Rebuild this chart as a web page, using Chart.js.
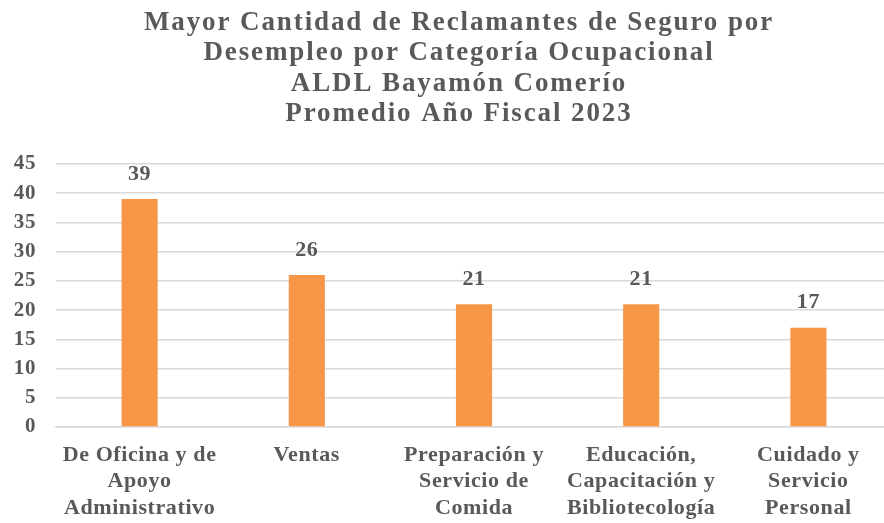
<!DOCTYPE html>
<html>
<head>
<meta charset="utf-8">
<script src="https://cdn.jsdelivr.net/npm/chart.js@4/dist/chart.umd.min.js"></script>
<style>
  html, body { margin: 0; padding: 0; background: #fff; }
  #wrap { width: 884px; height: 523px; overflow: hidden; }
  #box { width: 916px; height: 523px; }
</style>
</head>
<body>
<div id="wrap"><div id="box"><canvas id="chart"></canvas></div></div>
<script>
const titleLines = [
	'Mayor Cantidad de Reclamantes de Seguro por',
	'Desempleo por Categoría Ocupacional',
	'ALDL Bayamón Comerío',
	'Promedio Año Fiscal 2023'
];
const categories = [
	['De Oficina y de', 'Apoyo', 'Administrativo'],
	['Ventas'],
	['Preparación y', 'Servicio de', 'Comida'],
	['Educación,', 'Capacitación y', 'Bibliotecología'],
	['Cuidado y', 'Servicio', 'Personal']
];
const claimants = [39, 26, 21, 21, 17];

const textColor = '#595959';
const serif = "'Liberation Serif', 'Times New Roman', serif";

// wider letter spacing like the original, title and bar numbers drawn here
const textExtras = {
	id: 'textExtras',
	beforeDraw(chart) {
		chart.ctx.letterSpacing = '0.6px';
	},
	afterDatasetsDraw(chart) {
		const ctx = chart.ctx;
		const meta = chart.getDatasetMeta(0);
		ctx.save();
		ctx.letterSpacing = '0.6px';
		ctx.font = `bold 22px ${serif}`;
		ctx.fillStyle = textColor;
		ctx.textAlign = 'center';
		ctx.textBaseline = 'middle';
		meta.data.forEach((bar, i) => {
			ctx.fillText(claimants[i], bar.x, bar.y - 25);
		});
		ctx.restore();
	},
	afterDraw(chart) {
		const ctx = chart.ctx;
		ctx.save();
		ctx.letterSpacing = '1.9px';
		ctx.font = `bold 27px ${serif}`;
		ctx.fillStyle = textColor;
		ctx.textAlign = 'center';
		ctx.textBaseline = 'middle';
		titleLines.forEach((line, i) => {
			ctx.fillText(line, chart.width / 2 + 1, 23 + i * 30.3);
		});
		ctx.restore();
	}
};

new Chart(document.getElementById('chart'), {
	type: 'bar',
	data: {
		labels: categories,
		datasets: [{
			data: claimants,
			backgroundColor: '#F79646',
			borderWidth: 0,
			categoryPercentage: 1,
			barPercentage: 0.216
		}]
	},
	options: {
		responsive: true,
		maintainAspectRatio: false,
		animation: false,
		layout: { padding: { top: 164, right: 24, bottom: 0, left: 0 } },
		plugins: {
			legend: { display: false },
			tooltip: { enabled: false },
			title: { display: false }
		},
		scales: {
			x: {
				afterFit(scale) { scale.height = 96; },
				grid: { display: false },
				border: { color: '#D9D9D9', width: 1.5 },
				ticks: {
					color: textColor,
					font: { family: serif, size: 22, weight: 'bold', lineHeight: '26.5px' },
					maxRotation: 0,
					autoSkip: false,
					padding: 7
				}
			},
			y: {
				min: 0,
				max: 45,
				afterFit(scale) { scale.width = 56; },
				grid: { color: '#D9D9D9', lineWidth: 1.5, drawTicks: false },
				border: { display: false },
				ticks: {
					stepSize: 5,
					autoSkip: false,
					color: textColor,
					font: { family: serif, size: 21, weight: 'bold', lineHeight: 1 },
					padding: 20
				}
			}
		}
	},
	plugins: [textExtras]
});
</script>
</body>
</html>
